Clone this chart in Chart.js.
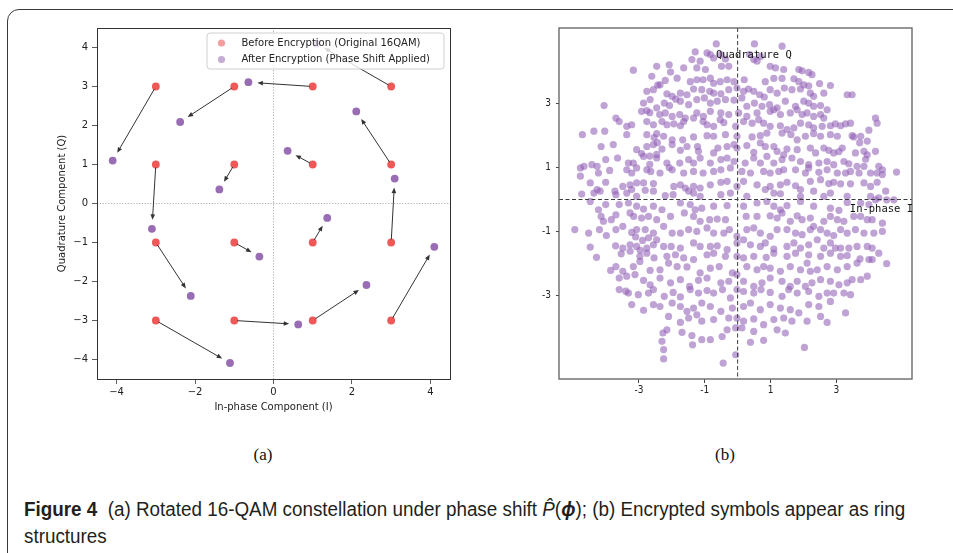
<!DOCTYPE html>
<html><head><meta charset="utf-8">
<script src="https://cdn.jsdelivr.net/npm/chart.js@4.4.1/dist/chart.umd.min.js"></script>
<style>
html,body{margin:0;padding:0;background:#fff;width:953px;height:553px;overflow:hidden;position:relative;}
#frame{position:absolute;left:7px;top:9px;width:1000px;height:560px;border:1px solid #3a3a3a;border-radius:12px;box-sizing:border-box;}
#c1{position:absolute;left:0;top:0;}
#c2{position:absolute;left:480px;top:0;}
.sub{position:absolute;top:444px;width:60px;text-align:center;font-family:'Liberation Serif','DejaVu Serif',serif;font-size:17px;line-height:22px;color:#111;}
.cap{position:absolute;left:24px;white-space:nowrap;font-family:'Liberation Sans Narrow','Liberation Sans',sans-serif;font-size:19.5px;line-height:22px;color:#231f20;transform-origin:0 50%;}
</style></head>
<body>
<div id="frame"></div>
<canvas id="c1" width="480" height="420"></canvas>
<canvas id="c2" width="473" height="420"></canvas>
<div class="sub" style="left:233px">(a)</div>
<div class="sub" style="left:695px">(b)</div>
<div id="cap1" class="cap" style="top:498px"><b>Figure 4</b>&nbsp; (a) Rotated 16-QAM constellation under phase shift <i>P̂</i>(<b><i>ϕ</i></b>); (b) Encrypted symbols appear as ring</div>
<div id="cap2" class="cap" style="top:525px">structures</div>
<script>
// ---------- (a) data ----------
const qamI = [3, 1, -1, -3, 3, 1, -1, -3, 3, 1, -1, -3, 3, 1, -1, -3];
const qamQ = [3, 3, 3, 3, 1, 1, 1, 1, -1, -1, -1, -1, -3, -3, -3, -3];
const encI = [1.10, -0.64, -2.38, -4.10, 2.11, 0.36, -1.38, -3.10, 3.09, 1.37, -0.36, -2.11, 4.10, 2.37, 0.63, -1.11];
const encQ = [4.10, 3.11, 2.09, 1.10, 2.36, 1.35, 0.36, -0.65, 0.64, -0.37, -1.36, -2.37, -1.11, -2.09, -3.10, -4.09];
const aXTicks = [-4, -2, 0, 2, 4];
const aYTicks = [-4, -3, -2, -1, 0, 1, 2, 3, 4];
const legendLabels = ['Before Encryption (Original 16QAM)', 'After Encryption (Phase Shift Applied)'];

// ---------- (b) data ----------
const bTicks = [-3, -1, 1, 3];
const ringPts = [
[-0.65,4.87],[0.51,4.87],[1.35,4.80],
[-1.29,4.62],[-0.93,4.59],[-0.83,4.54],[-0.51,4.54],[0.36,4.54],[0.69,4.48],
[-1.39,4.38],[-1.14,4.33],[-0.73,4.43],[-0.37,4.40],[0.49,4.38],[0.59,4.33],[0.99,4.17],[1.15,4.12],[1.40,4.07],
[-2.46,4.17],[-2.08,4.22],[-3.17,4.05],[-2.04,3.99],[-1.64,4.12],[-1.24,4.12],[-0.98,4.07],[-0.49,4.17],[-0.27,4.17],[1.86,4.07],[1.96,4.03],[2.16,3.98],[2.26,3.91],
[-2.61,3.86],[-2.36,3.59],[-2.43,3.58],[-2.20,3.73],[-1.84,3.80],[-1.44,3.69],[-1.24,3.75],[-1.05,3.75],[-0.83,3.80],[-0.73,3.64],[-0.53,3.69],[-0.32,3.75],[-0.11,3.69],[0.20,3.75],[0.84,3.69],[1.10,3.79],[1.35,3.79],[1.71,3.78],[1.86,3.69],[2.01,3.59],[2.16,3.56],[2.49,3.63],[2.82,3.57],
[-2.76,3.39],[-2.56,3.44],[-2.15,3.31],[-1.99,3.23],[-1.74,3.33],[-1.54,3.28],[-1.34,3.46],[-1.09,3.44],[-0.85,3.39],[-0.73,3.33],[-0.51,3.31],[-0.27,3.44],[-0.02,3.49],[0.18,3.39],[0.33,3.46],[0.49,3.39],[0.67,3.28],[0.81,3.21],[0.99,3.44],[1.20,3.33],[1.42,3.49],[1.65,3.44],[1.91,3.46],[2.21,3.33],[2.31,3.23],[2.62,3.33],[3.33,3.28],[3.48,3.28],
[-4.06,2.94],[-2.86,3.02],[-2.66,3.13],[-2.46,2.87],[-2.23,3.02],[-2.07,2.94],[-1.88,3.14],[-1.74,3.08],[-1.49,2.97],[-1.24,3.13],[-1.01,3.18],[-0.83,3.02],[-0.62,3.08],[-0.37,3.13],[-0.11,3.11],[0.13,3.18],[0.28,2.92],[0.51,3.02],[0.74,2.92],[0.97,2.97],[1.20,2.87],[1.45,3.08],[1.76,2.92],[2.01,3.08],[2.16,3.02],[2.31,2.92],[2.52,2.94],[2.72,2.81],
[-2.92,2.76],[-2.76,2.78],[-2.67,2.72],[-2.37,2.66],[-2.20,2.71],[-1.99,2.60],[-1.76,2.66],[-1.59,2.55],[-1.24,2.71],[-1.04,2.60],[-0.83,2.76],[-0.51,2.71],[-0.27,2.66],[0.03,2.71],[0.28,2.60],[0.59,2.71],[0.99,2.76],[1.10,2.81],[1.30,2.66],[1.60,2.71],[1.81,2.81],[1.96,2.66],[2.11,2.71],[2.31,2.60],[2.52,2.66],[2.62,2.55],
[-3.70,2.55],[-3.60,2.44],[-3.37,2.29],[-3.22,2.34],[-2.76,2.44],[-2.56,2.34],[-2.30,2.44],[-2.15,2.34],[-1.94,2.37],[-1.74,2.31],[-1.64,2.44],[-1.34,2.55],[-1.05,2.44],[-0.93,2.34],[-0.73,2.29],[-0.53,2.50],[-0.42,2.41],[-0.06,2.29],[0.18,2.44],[0.44,2.39],[0.64,2.50],[0.79,2.39],[0.99,2.29],[1.30,2.31],[1.50,2.19],[1.71,2.24],[1.91,2.39],[2.16,2.34],[2.31,2.24],[2.57,2.29],[2.82,2.31],[2.97,2.37],[3.13,2.31],[3.28,2.37],[3.43,2.39],[4.19,2.55],[4.24,2.39],
[-4.72,2.03],[-4.37,2.14],[-4.04,2.14],[-3.37,2.03],[-2.76,2.03],[-2.46,2.06],[-2.25,1.98],[-1.99,1.87],[-1.67,1.87],[-1.34,1.96],[-0.93,2.00],[-0.73,1.98],[-0.37,2.03],[-0.02,1.98],[0.44,1.96],[0.69,2.00],[0.89,2.08],[1.35,2.08],[1.62,2.03],[1.81,1.87],[2.06,1.98],[2.31,2.06],[2.52,1.98],[2.82,2.03],[3.03,1.98],[3.48,2.00],[3.53,1.96],[3.74,1.98],[3.99,2.17],[3.71,1.78],[3.94,1.83],[-2.54,1.94],[-2.44,1.78],
[-4.15,1.66],[-3.78,1.72],[-3.07,1.56],[-2.92,1.44],[-2.76,1.66],[-2.56,1.72],[-2.30,1.58],[-1.99,1.72],[-1.74,1.54],[-1.54,1.66],[-1.22,1.66],[-1.19,1.51],[-0.73,1.46],[-0.60,1.61],[-0.32,1.66],[-0.11,1.72],[-0.02,1.61],[0.28,1.69],[0.49,1.48],[0.69,1.77],[0.84,1.66],[1.10,1.66],[1.20,1.51],[1.40,1.40],[1.50,1.58],[1.81,1.56],[2.21,1.61],[2.37,1.46],[2.62,1.61],[2.77,1.54],[2.92,1.46],[3.08,1.50],[3.18,1.61],[3.58,1.46],[3.84,1.51],[3.94,1.40],[4.19,1.51],[-2.67,1.36],[-2.46,1.41],
[-4.01,1.25],[-3.65,1.30],[-3.32,1.14],[-3.17,1.14],[-2.86,1.35],[-2.46,1.30],[-2.15,1.14],[-1.76,1.14],[-1.49,1.25],[-1.34,1.14],[-1.14,1.30],[-0.83,1.14],[-0.51,1.25],[-0.32,1.30],[-0.11,1.19],[0.23,1.14],[0.49,1.30],[0.69,1.14],[0.89,1.35],[1.10,1.14],[1.35,1.25],[1.65,1.30],[1.91,1.19],[2.16,1.09],[2.47,1.14],[2.72,1.19],[2.92,1.09],[3.23,1.19],[3.38,1.12],[3.63,1.04],[3.84,1.04],[3.89,1.26],[4.29,1.04],[4.40,0.93],[-2.67,1.10],[-2.08,1.00],
[-4.78,0.99],[-4.67,1.04],[-4.43,1.09],[-4.27,1.04],[-4.23,0.83],[-3.89,0.91],[-3.37,0.93],[-3.22,0.83],[-3.07,0.99],[-2.76,0.93],[-2.64,0.88],[-2.36,0.83],[-1.99,0.93],[-1.64,0.83],[-1.34,0.88],[-1.05,0.83],[-0.73,0.88],[-0.51,0.93],[-0.22,0.99],[0.13,0.88],[0.39,0.83],[0.79,0.88],[0.99,0.83],[1.25,0.88],[1.40,0.93],[1.76,0.93],[2.06,0.83],[2.16,0.99],[2.47,0.85],[2.72,0.93],[3.03,0.83],[3.28,0.83],[3.43,0.88],[3.69,0.83],[4.04,0.83],[4.24,0.83],[4.40,0.78],[4.83,0.86],
[-4.78,0.73],[-4.48,0.52],[-4.27,0.31],[-4.01,0.54],[-3.73,0.26],[-3.49,0.41],[-3.27,0.46],[-3.07,0.52],[-2.86,0.52],[-2.81,0.29],[-2.56,0.50],[-1.94,0.41],[-1.74,0.46],[-1.59,0.36],[-1.34,0.41],[-1.14,0.36],[-0.83,0.46],[-0.51,0.54],[-0.32,0.57],[-0.02,0.41],[0.18,0.57],[0.59,0.46],[0.99,0.41],[1.30,0.46],[1.50,0.54],[1.76,0.43],[1.91,0.31],[2.21,0.57],[2.52,0.62],[2.77,0.50],[2.92,0.54],[3.13,0.49],[3.43,0.49],[3.84,0.52],[4.04,0.41],[4.24,0.54],[4.50,0.26],
[-4.74,0.17],[-4.37,0.20],[-4.18,0.26],[-3.70,0.15],[-3.37,0.20],[-3.22,0.31],[-3.07,0.10],[-2.56,0.26],[-2.20,0.12],[-1.96,0.15],[-1.49,0.26],[-1.34,0.20],[-1.14,0.10],[-0.51,0.15],[-0.22,0.20],[0.28,0.10],[0.84,0.31],[1.10,0.20],[1.30,0.18],[1.91,0.10],[2.31,0.26],[2.62,0.10],[2.82,0.20],[3.33,0.10],[4.04,0.10],[4.29,0.05],[4.53,-0.01],[4.75,-0.01],
[-4.48,-0.06],[-4.01,-0.16],[-3.60,-0.16],[-3.32,-0.11],[-3.07,-0.21],[-2.86,-0.30],[-2.56,-0.21],[-2.30,-0.32],[-1.74,-0.11],[-1.44,-0.16],[-1.29,-0.32],[-1.09,-0.27],[-0.73,-0.21],[-0.32,-0.19],[0.18,-0.21],[0.59,-0.11],[0.89,-0.06],[1.10,-0.21],[1.30,-0.32],[1.50,-0.19],[1.91,-0.06],[2.31,-0.21],[2.82,-0.27],[3.08,-0.34],[3.33,-0.09],[3.74,-0.11],[3.99,-0.16],[4.19,-0.01],
[-4.23,-0.32],[-4.15,-0.53],[-4.08,-0.68],[-3.84,-0.63],[-3.70,-0.48],[-3.27,-0.42],[-3.16,-0.53],[-2.92,-0.58],[-2.71,-0.53],[-2.46,-0.63],[-2.04,-0.53],[-1.62,-0.42],[-1.34,-0.53],[-1.14,-0.68],[-0.85,-0.63],[-0.62,-0.61],[-0.37,-0.63],[0.26,-0.53],[0.59,-0.53],[0.99,-0.51],[1.20,-0.58],[1.35,-0.42],[1.60,-0.68],[1.81,-0.51],[1.96,-0.63],[2.21,-0.58],[2.31,-0.84],[2.62,-0.68],[2.82,-0.53],[3.03,-0.63],[3.23,-0.68],[3.53,-0.53],[3.74,-0.53],[3.94,-0.63],[4.09,-0.63],[4.40,-0.74],
[-4.95,-0.94],[-4.53,-1.05],[-4.20,-0.94],[-3.99,-1.13],[-3.70,-0.94],[-3.49,-0.84],[-3.22,-1.03],[-3.10,-1.17],[-3.07,-0.94],[-2.89,-1.28],[-2.81,-0.94],[-2.71,-1.20],[-2.56,-1.05],[-2.46,-1.26],[-2.25,-0.84],[-1.99,-1.05],[-1.74,-1.05],[-1.49,-0.94],[-1.24,-1.00],[-0.93,-0.89],[-0.73,-1.05],[-0.42,-1.05],[-0.25,-0.94],[-0.02,-1.15],[0.28,-0.94],[0.49,-0.89],[0.69,-1.05],[0.99,-1.15],[1.20,-0.94],[1.50,-0.94],[1.76,-1.05],[1.96,-1.10],[2.21,-0.94],[2.52,-0.94],[2.72,-1.05],[2.92,-1.13],[3.13,-0.94],[3.33,-1.05],[3.58,-0.94],[3.84,-1.05],[4.14,-1.05],[4.40,-1.00],
[-4.48,-1.49],[-3.71,-1.45],[-3.49,-1.52],[-3.27,-1.42],[-3.07,-1.47],[-2.96,-1.59],[-2.76,-1.52],[-2.56,-1.42],[-2.25,-1.47],[-2.02,-1.47],[-1.74,-1.52],[-1.34,-1.36],[-1.14,-1.47],[-0.83,-1.47],[-0.62,-1.45],[-0.32,-1.57],[-0.02,-1.36],[0.18,-1.26],[0.39,-1.42],[0.69,-1.47],[0.84,-1.36],[1.10,-1.55],[1.50,-1.47],[1.71,-1.36],[1.91,-1.52],[2.16,-1.42],[2.42,-1.26],[2.62,-1.52],[2.82,-1.36],[2.97,-1.52],[3.13,-1.52],[3.38,-1.52],[3.63,-1.47],[3.94,-1.47],[4.09,-1.52],
[-4.29,-1.81],[-3.54,-1.70],[-3.27,-1.62],[-2.97,-1.78],[-2.76,-1.68],[-2.54,-1.83],[-2.15,-1.78],[-1.89,-1.73],[-1.64,-1.83],[-1.34,-1.88],[-0.93,-1.73],[-0.73,-1.68],[-0.37,-1.78],[-0.02,-1.78],[0.18,-1.83],[0.49,-1.78],[0.87,-1.81],[1.10,-1.68],[1.50,-1.78],[1.76,-1.68],[2.16,-1.73],[2.52,-1.78],[2.82,-1.68],[3.13,-1.78],[3.33,-1.76],[3.72,-1.86],[3.99,-1.88],[4.29,-1.68],
[-3.86,-2.22],[-3.70,-2.10],[-3.49,-2.25],[-3.17,-2.10],[-2.97,-1.94],[-2.66,-2.22],[-2.36,-2.20],[-2.10,-1.99],[-1.84,-2.10],[-1.54,-2.11],[-1.14,-2.30],[-0.83,-2.15],[-0.56,-2.10],[-0.16,-2.30],[-0.02,-2.35],[0.28,-2.10],[0.59,-2.20],[0.79,-2.10],[0.99,-2.15],[1.30,-2.25],[1.60,-2.10],[1.91,-2.20],[2.11,-1.99],[2.21,-2.25],[2.42,-2.20],[2.72,-2.10],[3.03,-2.20],[3.33,-2.10],[3.63,-1.99],[4.09,-1.88],[4.53,-2.01],
[-3.60,-2.46],[-3.37,-2.40],[-3.12,-2.35],[-2.86,-2.53],[-2.66,-2.67],[-2.36,-2.46],[-2.04,-2.61],[-1.74,-2.51],[-1.46,-2.72],[-1.19,-2.53],[-0.93,-2.46],[-0.51,-2.61],[-0.27,-2.56],[-0.02,-2.82],[0.18,-2.56],[0.49,-2.72],[0.74,-2.61],[0.99,-2.46],[1.35,-2.56],[1.60,-2.72],[1.81,-2.56],[2.06,-2.72],[2.26,-2.61],[2.52,-2.51],[2.82,-2.56],[3.08,-2.67],[3.33,-2.61],[3.48,-2.51],[3.74,-2.51],[3.94,-2.40],
[-3.60,-2.82],[-3.40,-2.87],[-3.32,-2.93],[-3.02,-2.98],[-2.71,-2.93],[-2.56,-2.82],[-2.23,-3.03],[-1.96,-2.91],[-1.74,-3.05],[-1.44,-2.82],[-1.19,-2.93],[-0.93,-2.85],[-0.73,-2.93],[-0.46,-2.82],[-0.22,-3.08],[0.18,-2.88],[0.49,-2.93],[0.71,-2.82],[0.99,-2.91],[1.35,-3.03],[1.55,-2.82],[1.81,-2.93],[2.16,-2.88],[2.47,-3.03],[2.72,-2.93],[2.92,-2.93],[3.23,-2.93],[3.43,-2.98],
[-3.22,-3.29],[-2.86,-3.47],[-2.56,-3.29],[-2.36,-3.35],[-1.99,-3.24],[-1.74,-3.35],[-1.54,-3.50],[-1.34,-3.40],[-1.09,-3.24],[-0.83,-3.35],[-0.51,-3.50],[-0.16,-3.40],[0.18,-3.35],[0.39,-3.24],[0.69,-3.45],[0.99,-3.29],[1.30,-3.40],[1.60,-3.45],[1.86,-3.55],[2.16,-3.29],[2.47,-3.35],[2.82,-3.19],[3.28,-3.55],
[-2.10,-3.66],[-1.74,-3.85],[-1.49,-3.71],[-1.24,-3.61],[-1.09,-3.81],[-0.73,-3.76],[-0.27,-3.71],[-0.02,-3.71],[0.18,-3.81],[0.49,-3.74],[0.79,-3.92],[1.10,-3.76],[1.40,-3.71],[1.65,-3.81],[2.11,-3.81],[2.52,-3.66],[2.72,-3.85],
[-2.27,-4.18],[-2.15,-4.08],[-1.69,-4.16],[-1.39,-4.26],[-1.09,-4.39],[-0.83,-4.39],[-0.47,-4.29],[-0.32,-4.08],[-0.06,-4.02],[0.13,-4.02],[0.49,-4.13],[0.79,-4.41],[0.39,-4.47],[1.20,-4.08],[1.45,-4.18],
[-2.30,-4.44],[-2.25,-4.70],[-2.25,-4.99],[-1.37,-4.55],[-0.44,-5.12],[-0.06,-4.86],[2.03,-4.63]
];
const bLabelQ = 'Quadrature Q';
const bLabelI = 'In-phase I';

// ---------- styling ----------
const RED = 'rgba(236,40,40,0.78)';
const PURPLE = 'rgba(128,72,160,0.8)';
const RED_LEG = 'rgba(236,40,40,0.45)';
const PURPLE_LEG = 'rgba(128,72,160,0.45)';
const RING = 'rgba(146,96,182,0.58)';
const SANS = "'DejaVu Sans', sans-serif";
const NARROW = "'Liberation Sans Narrow','DejaVu Sans Condensed','Liberation Sans',sans-serif";
const MONO = "'DejaVu Sans Mono','Liberation Mono',monospace";
const fmtMinus = v => (v < 0 ? '\u2212' + Math.abs(v) : String(v));

const leftDecor = {
  id: 'leftDecor',
  beforeDatasetsDraw(chart) {
    const {ctx, chartArea: a, scales: {x, y}} = chart;
    const x0 = x.getPixelForValue(0), y0 = y.getPixelForValue(0);
    ctx.save();
    ctx.strokeStyle = '#9a9a9a'; ctx.lineWidth = 0.8; ctx.setLineDash([1.2, 1.6]);
    ctx.beginPath();
    ctx.moveTo(x0, a.top); ctx.lineTo(x0, a.bottom);
    ctx.moveTo(a.left, y0); ctx.lineTo(a.right, y0);
    ctx.stroke();
    ctx.restore();
  },
  afterDatasetsDraw(chart) {
    const {ctx, scales: {x, y}} = chart;
    ctx.save();
    ctx.strokeStyle = '#333'; ctx.fillStyle = '#333'; ctx.lineWidth = 1;
    for (let i = 0; i < qamI.length; i++) {
      const x1 = x.getPixelForValue(qamI[i]), y1 = y.getPixelForValue(qamQ[i]);
      const x2 = x.getPixelForValue(encI[i]), y2 = y.getPixelForValue(encQ[i]);
      const dx = x2 - x1, dy = y2 - y1, L = Math.hypot(dx, dy), ux = dx / L, uy = dy / L;
      const sx = x1 + ux * 3, sy = y1 + uy * 3;
      const ex = x2 - ux * 9, ey = y2 - uy * 9;
      const hl = 5.5, hw = 2.3;
      ctx.beginPath(); ctx.moveTo(sx, sy); ctx.lineTo(ex - ux * hl * 0.6, ey - uy * hl * 0.6); ctx.stroke();
      ctx.beginPath();
      ctx.moveTo(ex, ey);
      ctx.lineTo(ex - ux * hl - uy * hw, ey - uy * hl + ux * hw);
      ctx.lineTo(ex - ux * hl + uy * hw, ey - uy * hl - ux * hw);
      ctx.closePath(); ctx.fill();
    }
    ctx.restore();
  },
  afterDraw(chart) {
    const {ctx, chartArea: a} = chart;
    ctx.save();
    ctx.strokeStyle = '#333'; ctx.lineWidth = 1;
    ctx.strokeRect(Math.round(a.left) + 0.5, Math.round(a.top) + 0.5, Math.round(a.right - a.left), Math.round(a.bottom - a.top));
    const bw = 237, bh = 36, br = a.right - 6, bt = a.top + 5, bl = br - bw;
    ctx.beginPath();
    ctx.roundRect(bl, bt, bw, bh, 3);
    ctx.fillStyle = 'rgba(255,255,255,0.8)'; ctx.fill();
    ctx.strokeStyle = '#d0d0d0'; ctx.lineWidth = 1; ctx.stroke();
    const cols = [RED_LEG, PURPLE_LEG];
    ctx.font = '10px ' + SANS; ctx.textBaseline = 'middle'; ctx.textAlign = 'left';
    for (let k = 0; k < 2; k++) {
      const yy = bt + 10 + k * 16.5;
      ctx.beginPath(); ctx.arc(bl + 14.5, yy, 3.6, 0, Math.PI * 2); ctx.fillStyle = cols[k]; ctx.fill();
      ctx.fillStyle = '#222'; ctx.fillText(legendLabels[k], bl + 34.5, yy);
    }
    ctx.fillStyle = '#222'; ctx.font = '10px ' + SANS; ctx.textAlign = 'center'; ctx.textBaseline = 'middle';
    ctx.fillText('In-phase Component (I)', (a.left + a.right) / 2, a.bottom + 28);
    ctx.translate(a.left - 35, (a.top + a.bottom) / 2);
    ctx.rotate(-Math.PI / 2);
    ctx.fillText('Quadrature Component (Q)', 0, 0);
    ctx.restore();
  }
};

const rightDecor = {
  id: 'rightDecor',
  afterDatasetsDraw(chart) {
    const {ctx, chartArea: a, scales: {x, y}} = chart;
    const x0 = x.getPixelForValue(0), y0 = y.getPixelForValue(0);
    ctx.save();
    ctx.strokeStyle = '#3a3a3a'; ctx.lineWidth = 1; ctx.setLineDash([4, 2.5]);
    ctx.beginPath();
    ctx.moveTo(x0, a.top); ctx.lineTo(x0, a.bottom);
    ctx.moveTo(a.left, y0); ctx.lineTo(a.right, y0);
    ctx.stroke();
    ctx.restore();
  },
  afterDraw(chart) {
    const {ctx, chartArea: a, scales: {x, y}} = chart;
    ctx.save();
    ctx.strokeStyle = '#6a6a6a'; ctx.lineWidth = 1.4;
    ctx.strokeRect(a.left, a.top, a.right - a.left, a.bottom - a.top);
    ctx.fillStyle = '#111'; ctx.font = '10.5px ' + MONO; ctx.textBaseline = 'middle'; ctx.textAlign = 'left';
    ctx.fillText(bLabelQ, x.getPixelForValue(-0.66), y.getPixelForValue(4.51));
    ctx.fillText(bLabelI, x.getPixelForValue(3.41), y.getPixelForValue(-0.30));
    ctx.restore();
  }
};

Chart.defaults.font.family = SANS;
Chart.defaults.animation = false;

new Chart(document.getElementById('c1'), {
  type: 'scatter',
  data: {
    datasets: [
      {label: legendLabels[0], data: qamI.map((v, i) => ({x: v, y: qamQ[i]})), backgroundColor: RED, borderWidth: 0, pointRadius: 3.9},
      {label: legendLabels[1], data: encI.map((v, i) => ({x: v, y: encQ[i]})), backgroundColor: PURPLE, borderWidth: 0, pointRadius: 3.9}
    ]
  },
  options: {
    responsive: false, devicePixelRatio: 1, events: [],
    layout: {padding: {left: 0, top: 28, right: 30, bottom: 0}},
    plugins: {legend: {display: false}, tooltip: {enabled: false}},
    scales: {
      x: {
        min: -4.5, max: 4.5,
        afterBuildTicks: s => { s.ticks = aXTicks.map(v => ({value: v})); },
        afterFit: s => { s.height = 41; },
        border: {display: false},
        grid: {display: true, drawOnChartArea: false, drawTicks: true, tickLength: 5, tickColor: '#333', tickWidth: 0.8},
        ticks: {color: '#222', font: {size: 10, family: SANS}, padding: 2, maxRotation: 0, callback: fmtMinus}
      },
      y: {
        min: -4.5, max: 4.5,
        afterBuildTicks: s => { s.ticks = aYTicks.map(v => ({value: v})); },
        afterFit: s => { s.width = 97; },
        border: {display: false},
        grid: {display: true, drawOnChartArea: false, drawTicks: true, tickLength: 5, tickColor: '#333', tickWidth: 0.8},
        ticks: {color: '#222', font: {size: 10, family: SANS}, padding: 4, callback: fmtMinus}
      }
    }
  },
  plugins: [leftDecor]
});

new Chart(document.getElementById('c2'), {
  type: 'scatter',
  data: {
    datasets: [
      {label: 'Encrypted', data: ringPts.map(p => ({x: p[0], y: p[1]})), backgroundColor: RING, borderWidth: 0, pointRadius: 3.6}
    ]
  },
  options: {
    responsive: false, devicePixelRatio: 1, events: [],
    layout: {padding: {left: 0, top: 28, right: 41, bottom: 0}},
    plugins: {legend: {display: false}, tooltip: {enabled: false}},
    scales: {
      x: {
        min: -5.43, max: 5.30,
        afterBuildTicks: s => { s.ticks = bTicks.map(v => ({value: v})); },
        afterFit: s => { s.height = 41; },
        border: {display: false},
        grid: {display: true, drawOnChartArea: false, drawTicks: true, tickLength: 4, tickColor: '#444', tickWidth: 1},
        ticks: {color: '#222', font: {size: 10, family: NARROW}, padding: 1, maxRotation: 0, callback: v => String(v)}
      },
      y: {
        min: -5.62, max: 5.37,
        afterBuildTicks: s => { s.ticks = bTicks.map(v => ({value: v})); },
        afterFit: s => { s.width = 79; },
        border: {display: false},
        grid: {display: true, drawOnChartArea: false, drawTicks: true, tickLength: 3, tickColor: '#444', tickWidth: 1},
        ticks: {color: '#222', font: {size: 10, family: NARROW}, padding: 5, callback: v => String(v)}
      }
    }
  },
  plugins: [rightDecor]
});

function fitCaption() {
  const c1 = document.getElementById('cap1'), c2 = document.getElementById('cap2');
  const w = c1.offsetWidth;
  const s = 881 / w;
  c1.style.transform = 'scaleX(' + s + ')';
  c2.style.transform = 'scaleX(' + s + ')';
}
fitCaption();
if (document.fonts && document.fonts.ready) document.fonts.ready.then(fitCaption);
</script>
</body></html>
